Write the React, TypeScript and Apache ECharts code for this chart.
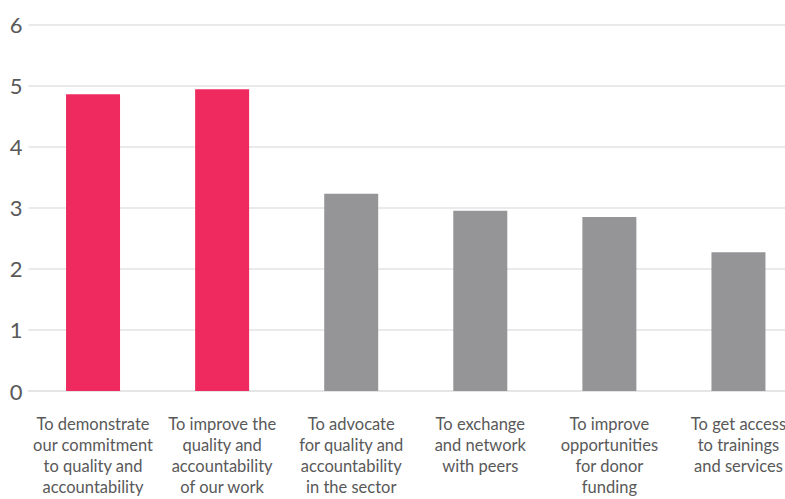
import React, { useEffect, useRef } from "react";
import * as echarts from "echarts";

const categories = [
  "To demonstrate\nour commitment\nto quality and\naccountability",
  "To improve the\nquality and\naccountability\nof our work",
  "To advocate\nfor quality and\naccountability\nin the sector",
  "To exchange\nand network\nwith peers",
  "To improve\nopportunities\nfor donor\nfunding",
  "To get access\nto trainings\nand services",
];
const values = [4.86, 4.94, 3.23, 2.95, 2.85, 2.27];
const highlighted = [true, true, false, false, false, false];
const PINK = "#EE2A5F";
const GRAY = "#959598";

export default function App() {
  const ref = useRef<HTMLDivElement>(null);
  useEffect(() => {
    if (!ref.current) return;
    const chart = echarts.init(ref.current, undefined, { renderer: "svg" });
    chart.setOption({
      animation: false,
      grid: {
        left: 28.5,
        right: 0,
        top: 24.5,
        bottom: 108,
        containLabel: false,
        outerBoundsMode: "none",
      },
      xAxis: {
        type: "category",
        data: categories,
        axisTick: { show: false },
        axisLine: { lineStyle: { color: "#E3E3E3", width: 1.5 } },
        axisLabel: {
          interval: 0,
          color: "#595959",
          fontFamily: "Lato",
          fontSize: 16.5,
          lineHeight: 21,
          margin: 22,
        },
      },
      yAxis: {
        type: "value",
        min: 0,
        max: 6,
        interval: 1,
        axisLabel: {
          color: "#595959",
          fontFamily: "Lato",
          fontSize: 22,
          margin: 6,
        },
        splitLine: { lineStyle: { color: "#E3E3E3", width: 1.5 } },
      },
      series: [
        {
          type: "bar",
          barWidth: 54,
          data: values.map((v, i) => ({
            value: v,
            itemStyle: { color: highlighted[i] ? PINK : GRAY },
          })),
        },
      ],
    });
    return () => chart.dispose();
  }, []);
  return (
    <div style={{ width: 785, height: 499, position: "absolute", left: 0, top: 0, overflow: "hidden" }}>
      <div ref={ref} style={{ width: 803, height: 499 }} />
    </div>
  );
}
